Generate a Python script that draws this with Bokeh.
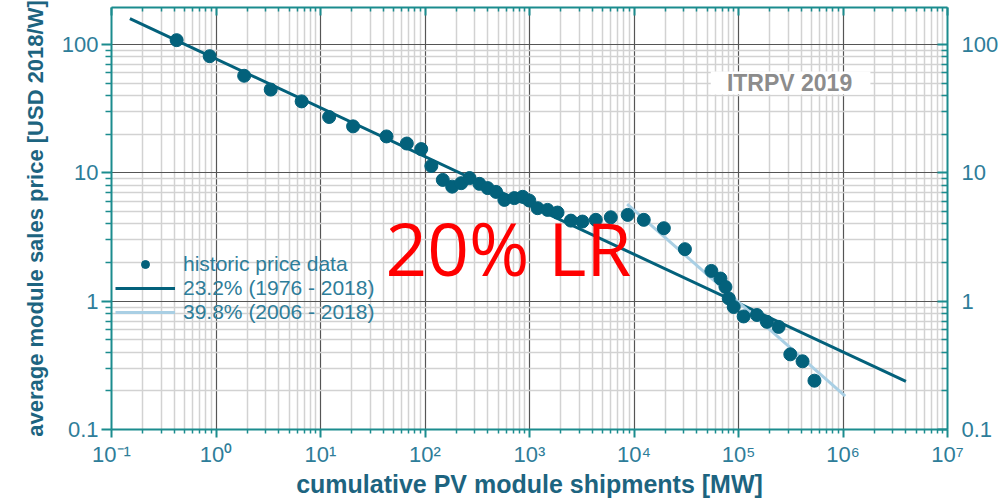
from bokeh.plotting import figure
from bokeh.models import (Range1d, LogAxis, FixedTicker, CustomJSTickFormatter,
                          Legend, LegendItem, Label, BoxAnnotation)
from bokeh.embed import file_html
from bokeh.resources import INLINE

# ---- data ----
shipments_mw = [0.42, 0.87, 1.86, 3.34, 6.6, 12.1, 20.5, 42.8, 67, 92, 115, 148, 182,
                222, 267, 332, 398, 479, 575, 716, 860, 995, 1195, 1488, 1855, 2490,
                3210, 4310, 6000, 8700, 12400, 19300, 30700, 55000, 67200, 75000, 80700,
                90000, 112000, 150000, 187000, 242000, 313000, 410000, 533000]
price_usd_w = [108, 81, 57, 44.5, 36, 27.2, 23, 19.2, 16.9, 15.3, 11.3, 8.8, 7.8,
               8.3, 9.1, 8.2, 7.6, 7.1, 6.15, 6.35, 6.5, 6.08, 5.3, 5.14, 4.9, 4.24,
               4.17, 4.3, 4.5, 4.7, 4.3, 3.7, 2.54, 1.72, 1.50, 1.29, 1.05,
               0.90, 0.76, 0.78, 0.69, 0.63, 0.385, 0.34, 0.24]

fit_all_x = [0.15, 4.0e6]
fit_all_y = [159, 0.237]
fit_recent_x = [8600, 1.05e6]
fit_recent_y = [5.7, 0.182]

series_labels = ["historic price data", "23.2% (1976 - 2018)", "39.8% (2006 - 2018)"]

x_tick_values = [1e-1, 1e0, 1e1, 1e2, 1e3, 1e4, 1e5, 1e6, 1e7]
x_tick_labels = ["10\u207b\u00b9", "10\u2070", "10\u00b9", "10\u00b2", "10\u00b3",
                 "10\u2074", "10\u2075", "10\u2076", "10\u2077"]
y_tick_values = [0.1, 1, 10, 100]
y_tick_labels = ["0.1", "1", "10", "100"]

x_label = "cumulative PV module shipments [MW]"
y_label = "average module sales price [USD 2018/W]"
note_text = "ITRPV 2019"
overlay_text = "20% LR"

# ---- styling ----
DOT = "#03617b"
LIGHT = "#a9cfe4"
AXIS = "#1b8c8e"
TICKLBL = "#2e7d99"
TITLE = "#1d6480"
FONT = "Liberation Sans"


def minor_of(vals):
    out = []
    for v in vals[:-1]:
        for k in range(2, 10):
            out.append(v * k)
    return out


def fmt(vals, labels):
    return CustomJSTickFormatter(args=dict(vals=vals, labels=labels), code="""
        for (let i = 0; i < vals.length; i++) {
            if (Math.abs(Math.log10(vals[i]) - Math.log10(tick)) < 1e-6) return labels[i];
        }
        return '';
    """)


p = figure(width=1001, height=500, x_axis_type="log", y_axis_type="log",
           x_range=Range1d(0.1, 1e7), y_range=Range1d(0.1, 194),
           output_backend="svg", toolbar_location=None,
           min_border_left=111, min_border_right=52, min_border_top=7,
           min_border_bottom=70, background_fill_color="white",
           border_fill_color="white", outline_line_color=None)

xt = FixedTicker(ticks=x_tick_values, minor_ticks=minor_of(x_tick_values))
yt = FixedTicker(ticks=y_tick_values, minor_ticks=minor_of([0.1, 1, 10, 100, 1000]))

# grids
for g, t in ((p.xgrid, xt), (p.ygrid, yt)):
    g.ticker = t
    g.grid_line_color = "#555555"
    g.grid_line_width = 1.2
    g.minor_grid_line_color = "#d2d2d2"
    g.minor_grid_line_width = 1.5


def style_axis(ax, tick_in, tick_out, show_labels):
    ax.axis_line_color = AXIS
    ax.axis_line_width = 2
    ax.major_tick_line_color = AXIS
    ax.minor_tick_line_color = AXIS
    ax.major_tick_line_width = 2
    ax.minor_tick_line_width = 1.5
    ax.major_tick_in = tick_in
    ax.major_tick_out = tick_out
    ax.minor_tick_in = int(tick_in * 0.6)
    ax.minor_tick_out = int(tick_out * 0.6)
    ax.major_label_text_font = FONT
    ax.major_label_text_color = TICKLBL
    if show_labels:
        ax.major_label_text_font_size = "22px"
    else:
        ax.major_label_text_font_size = "0px"


# bottom
bx = p.xaxis[0]
bx.ticker = xt
bx.formatter = fmt(x_tick_values, x_tick_labels)
style_axis(bx, 0, 8, True)
bx.major_label_standoff = 4
bx.axis_label = x_label
bx.axis_label_text_font = FONT
bx.axis_label_text_font_style = "bold"
bx.axis_label_text_font_size = "25px"
bx.axis_label_text_color = TITLE
bx.axis_label_standoff = 0

# left
ly = p.yaxis[0]
ly.ticker = yt
ly.formatter = fmt(y_tick_values, y_tick_labels)
style_axis(ly, 0, 10, True)
ly.major_label_standoff = 3
ly.axis_label = y_label
ly.axis_label_text_font = FONT
ly.axis_label_text_font_style = "bold"
ly.axis_label_text_font_size = "22px"
ly.axis_label_text_color = TITLE
ly.axis_label_standoff = 11

# right
ry = LogAxis(ticker=yt, formatter=fmt(y_tick_values, y_tick_labels))
style_axis(ry, 10, 0, True)
ry.major_label_standoff = 14
p.add_layout(ry, "right")

# top
tx = LogAxis(ticker=xt, formatter=fmt(x_tick_values, [""] * len(x_tick_values)))
style_axis(tx, 8, 0, False)
tx.major_label_standoff = 0
p.add_layout(tx, "above")

# data
l1 = p.line(fit_all_x, fit_all_y, line_color=DOT, line_width=3)
l2 = p.line(fit_recent_x, fit_recent_y, line_color=LIGHT, line_width=3)
pts = p.scatter(shipments_mw, price_usd_w, size=13, color=DOT)

legend = Legend(items=[LegendItem(label=series_labels[0], renderers=[pts]),
                       LegendItem(label=series_labels[1], renderers=[l1]),
                       LegendItem(label=series_labels[2], renderers=[l2])],
                location=(4, 105), padding=0, spacing=0, margin=0,
                glyph_width=60, glyph_height=20, label_height=20, label_standoff=8,
                label_text_font=FONT, label_text_font_size="21px",
                label_text_color=TICKLBL, background_fill_alpha=0,
                border_line_alpha=0)
p.add_layout(legend)

# ITRPV note box
p.add_layout(BoxAnnotation(left=5.43e4, right=1.83e6, bottom=40.7, top=61.5,
                           fill_color="white", fill_alpha=1, line_alpha=0))
p.add_layout(Label(x=3.08e5, y=50.5, text=note_text, text_align="center",
                   text_baseline="middle", text_font=FONT, text_font_style="bold",
                   text_font_size="23px", text_color="#8c8c8c"))

# red overlay
p.add_layout(Label(x=628, y=2.62, text=overlay_text, text_align="center",
                   text_baseline="middle", text_font="Open Sans",
                   text_font_size="73px", text_color="#ff0000"))

open("out.html", "w").write(file_html(p, INLINE))
